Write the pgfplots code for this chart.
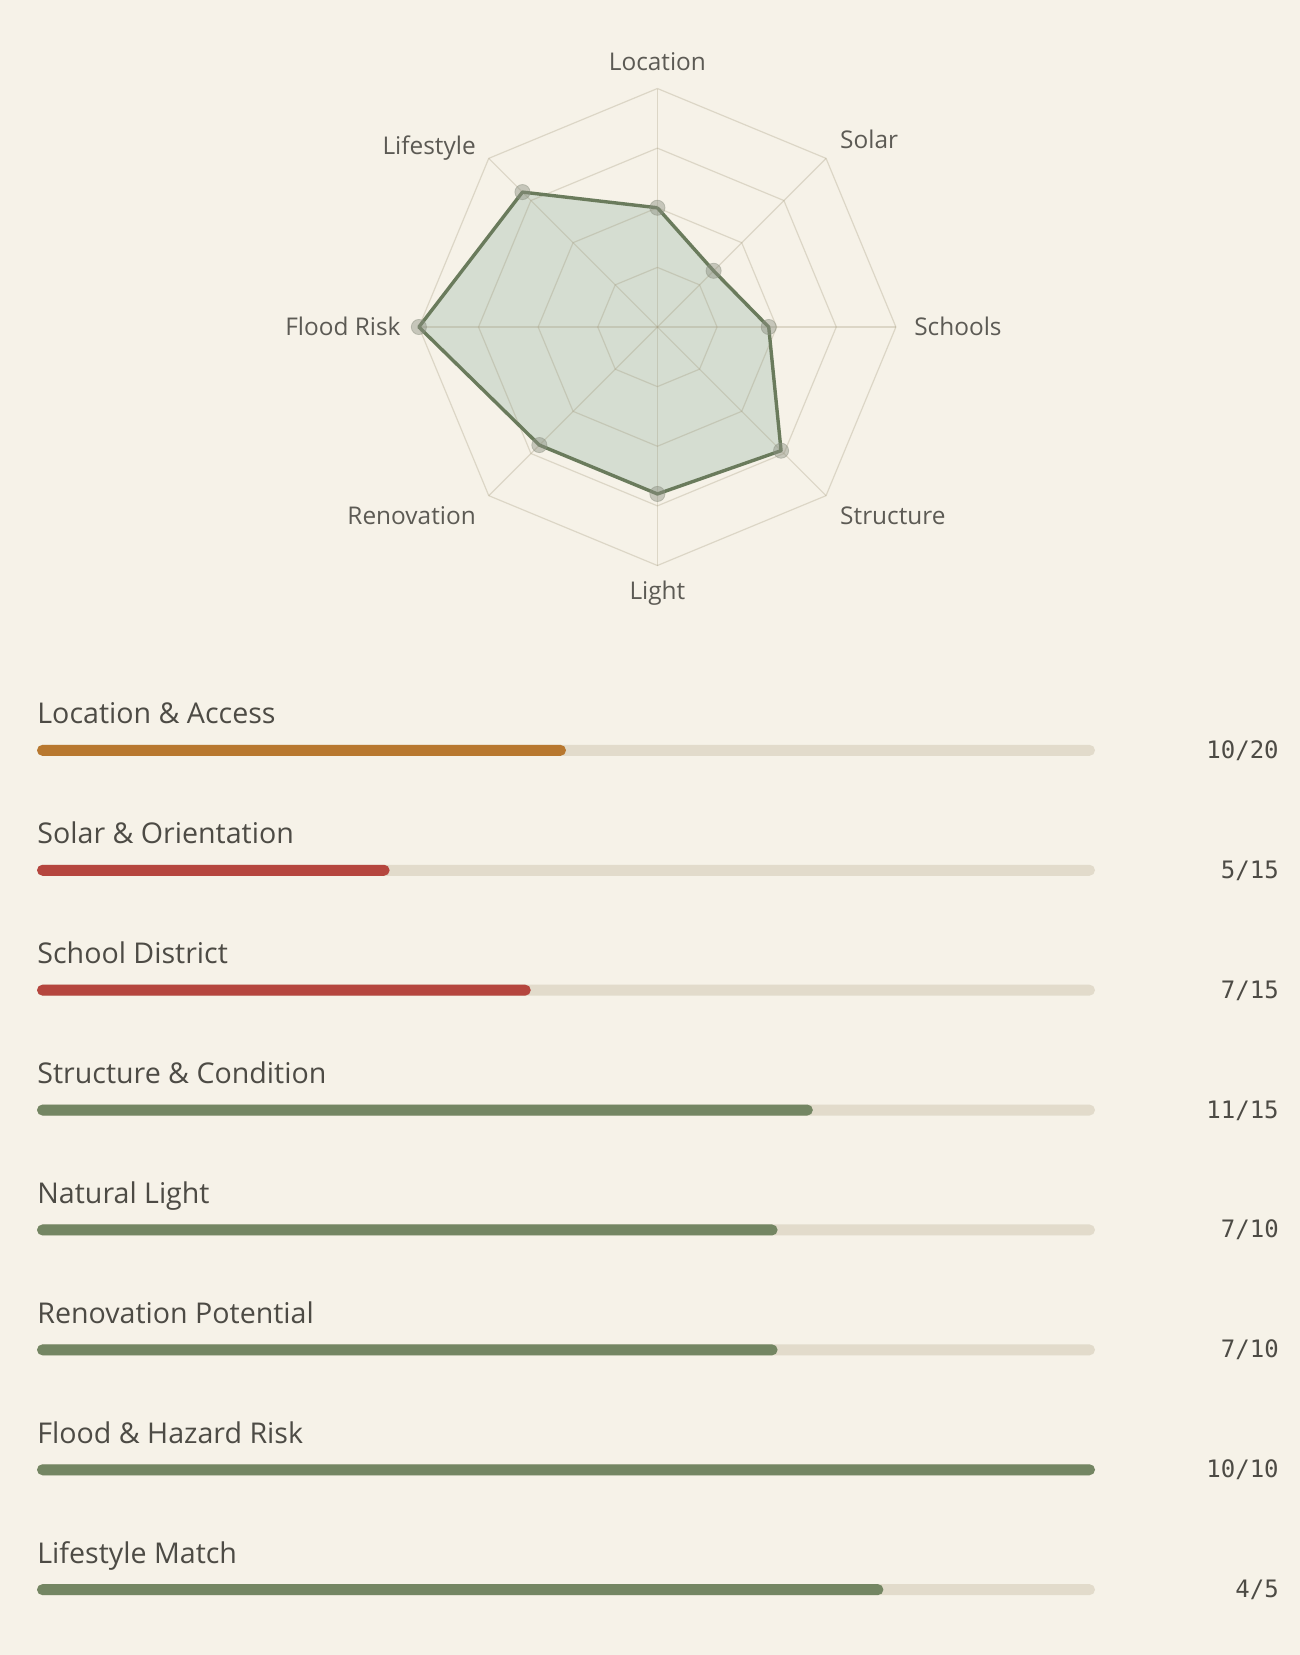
\documentclass[border=0pt]{standalone}
\usepackage{pgfplots}
\pgfplotsset{compat=1.18}
\usepgfplotslibrary{polar}
\usepackage{fontspec}
\setmainfont{Open Sans}
\newfontfamily\monofont{DejaVu Sans Mono}
\definecolor{bg}{HTML}{F6F2E8}
\definecolor{txt}{HTML}{4D4B45}
\definecolor{rlab}{HTML}{5C5A54}
\definecolor{track}{HTML}{E2DBCB}
\definecolor{cOrange}{HTML}{B8782F}
\definecolor{cRed}{HTML}{B5463E}
\definecolor{cGreen}{HTML}{748663}
\definecolor{rline}{HTML}{6A7B5C}
\definecolor{rfill}{HTML}{D5DDD1}
\definecolor{rgrid}{RGB}{160,150,120}
\definecolor{rpt}{RGB}{140,145,130}
\tikzset{rlabel/.style={font=\fontsize{12.2}{14}\selectfont, text=rlab, inner sep=0pt}}
\begin{document}
\begin{tikzpicture}
\fill[bg] (0pt,0pt) rectangle (650pt,-827.5pt);
\path[use as bounding box] (0pt,0pt) rectangle (650pt,-827.5pt);
\begin{polaraxis}[at={(328.7pt,-163.5pt)}, anchor=center, scale only axis,
  width=238.5pt, height=238.5pt, ymin=0, ymax=1, hide axis, clip=false]
% fill
\addplot[fill=rfill, draw=none] coordinates {(90,0.5) (45,0.3333) (0,0.4667) (-45,0.7333) (-90,0.7) (-135,0.7) (180,1) (135,0.8) (90,0.5)};
% grid rings
\addplot[rgrid, opacity=0.3, line width=0.6pt] coordinates {(90,0.25)(45,0.25)(0,0.25)(-45,0.25)(-90,0.25)(-135,0.25)(180,0.25)(135,0.25)(90,0.25)};
\addplot[rgrid, opacity=0.3, line width=0.6pt] coordinates {(90,0.5)(45,0.5)(0,0.5)(-45,0.5)(-90,0.5)(-135,0.5)(180,0.5)(135,0.5)(90,0.5)};
\addplot[rgrid, opacity=0.3, line width=0.6pt] coordinates {(90,0.75)(45,0.75)(0,0.75)(-45,0.75)(-90,0.75)(-135,0.75)(180,0.75)(135,0.75)(90,0.75)};
\addplot[rgrid, opacity=0.3, line width=0.6pt] coordinates {(90,1)(45,1)(0,1)(-45,1)(-90,1)(-135,1)(180,1)(135,1)(90,1)};
% spokes
\addplot[rgrid, opacity=0.3, line width=0.6pt] coordinates {(90,1)(270,1)};
\addplot[rgrid, opacity=0.3, line width=0.6pt] coordinates {(45,1)(225,1)};
\addplot[rgrid, opacity=0.3, line width=0.6pt] coordinates {(0,1)(180,1)};
\addplot[rgrid, opacity=0.3, line width=0.6pt] coordinates {(135,1)(315,1)};
% points
\addplot[only marks, mark=*, color=rpt, opacity=0.45, mark size=3.8pt] coordinates {(90,0.5) (45,0.3333) (0,0.4667) (-45,0.7333) (-90,0.7) (-135,0.7) (180,1) (135,0.8)};
% outline
\addplot[rline, line width=1.7pt, line join=round] coordinates {(90,0.5) (45,0.3333) (0,0.4667) (-45,0.7333) (-90,0.7) (-135,0.7) (180,1) (135,0.8) (90,0.5)};
% labels
\node[rlabel, anchor=base, yshift=9pt] at (axis cs:90,1) {Location};
\node[rlabel, anchor=base west, xshift=6.9pt, yshift=4.7pt] at (axis cs:45,1) {Solar};
\node[rlabel, anchor=base west, xshift=9pt, yshift=-4.2pt] at (axis cs:0,1) {Schools};
\node[rlabel, anchor=base west, xshift=6.9pt, yshift=-14.2pt] at (axis cs:-45,1) {Structure};
\node[rlabel, anchor=base, yshift=-16.9pt] at (axis cs:-90,1) {Light};
\node[rlabel, anchor=base east, xshift=-6.3pt, yshift=-14.2pt] at (axis cs:-135,1) {Renovation};
\node[rlabel, anchor=base east, xshift=-9pt, yshift=-4.2pt] at (axis cs:180,1) {Flood Risk};
\node[rlabel, anchor=base east, xshift=-6.3pt, yshift=2pt] at (axis cs:135,1) {Lifestyle};
\end{polaraxis}
\begin{axis}[at={(18.5pt,-345.2pt)}, anchor=north west, scale only axis,
  width=529pt, height=479.6pt, xmin=0, xmax=1, ymin=0.5, ymax=8.5,
  hide axis, clip=false, xbar, bar width=5.5pt, bar shift=0pt]
\addplot[fill=track, draw=none, rounded corners=2.75pt] coordinates {(1,8)(1,7)(1,6)(1,5)(1,4)(1,3)(1,2)(1,1)};
\addplot[fill=cOrange, draw=none, rounded corners=2.75pt] coordinates {(0.5,8)};
\addplot[fill=cRed, draw=none, rounded corners=2.75pt] coordinates {(0.3333,7)(0.4667,6)};
\addplot[fill=cGreen, draw=none, rounded corners=2.75pt] coordinates {(0.7333,5)(0.7,4)(0.7,3)(1,2)(0.8,1)};
\begin{scope}[every node/.style={inner sep=0pt, font=\fontsize{14.3}{17}\selectfont, text=txt, anchor=base west, yshift=13.3pt}]
\node at (axis cs:0,8) {Location \& Access};
\node at (axis cs:0,7) {Solar \& Orientation};
\node at (axis cs:0,6) {School District};
\node at (axis cs:0,5) {Structure \& Condition};
\node at (axis cs:0,4) {Natural Light};
\node at (axis cs:0,3) {Renovation Potential};
\node at (axis cs:0,2) {Flood \& Hazard Risk};
\node at (axis cs:0,1) {Lifestyle Match};
\end{scope}
\begin{scope}[every node/.style={inner sep=0pt, font=\monofont\fontsize{12}{14}\selectfont, text=txt, anchor=base east, yshift=-4pt}]
\node at (axis cs:1.174,8) {10/20};
\node at (axis cs:1.174,7) {5/15};
\node at (axis cs:1.174,6) {7/15};
\node at (axis cs:1.174,5) {11/15};
\node at (axis cs:1.174,4) {7/10};
\node at (axis cs:1.174,3) {7/10};
\node at (axis cs:1.174,2) {10/10};
\node at (axis cs:1.174,1) {4/5};
\end{scope}
\end{axis}
\end{tikzpicture}
\end{document}
